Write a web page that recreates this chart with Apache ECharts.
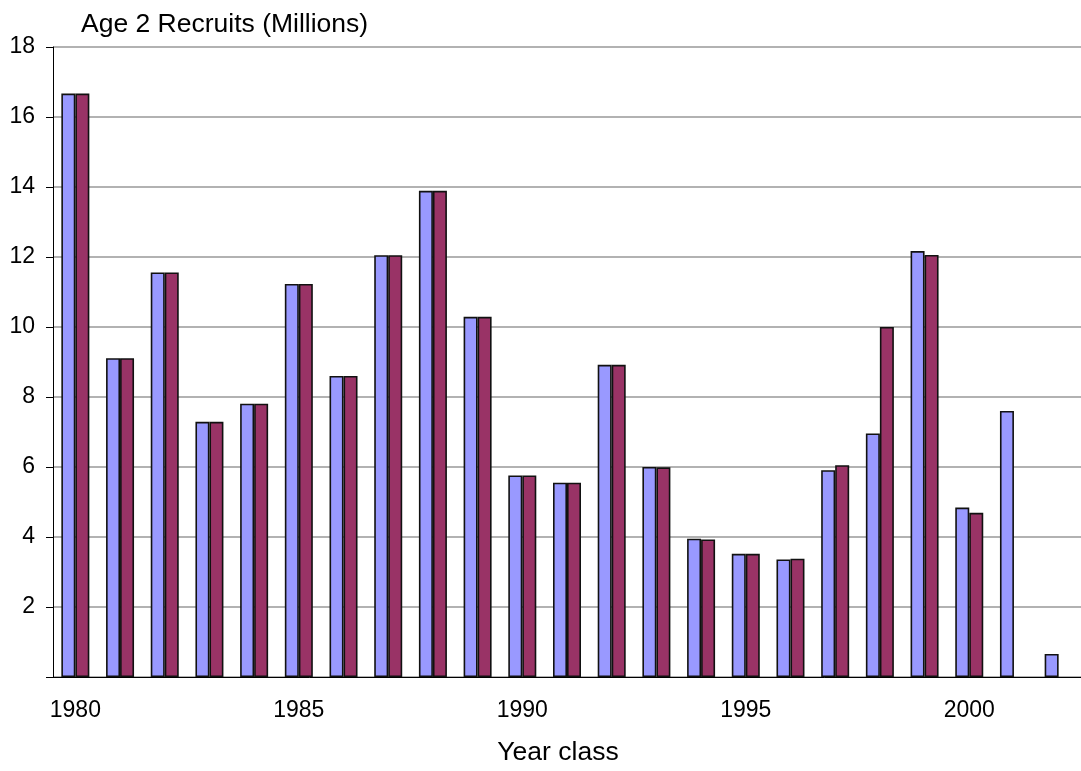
<!DOCTYPE html>
<html>
<head>
<meta charset="utf-8">
<script src="https://cdn.jsdelivr.net/npm/echarts@6/dist/echarts.min.js"></script>
<style>
  html, body { margin: 0; padding: 0; background: #fff; }
  #chart { width: 1081px; height: 771px; }
</style>
</head>
<body>
<div id="chart"></div>
<script>
// Year classes on the x axis
const yearClasses = ['1980','1981','1982','1983','1984','1985','1986','1987','1988','1989',
  '1990','1991','1992','1993','1994','1995','1996','1997','1998','1999','2000','2001','2002'];

// Age 2 recruits (millions), previous run
const previousRun = [16.67, 9.11, 11.56, 7.29, 7.81, 11.23, 8.60, 12.05, 13.89, 10.29,
  5.76, 5.55, 8.92, 6.00, 3.95, 3.52, 3.36, 5.91, 6.96, 12.17, 4.84, 7.60, 0.66];

// Age 2 recruits (millions), current run
const currentRun = [16.67, 9.11, 11.56, 7.29, 7.81, 11.23, 8.60, 12.05, 13.89, 10.29,
  5.76, 5.55, 8.92, 5.99, 3.93, 3.52, 3.38, 6.05, 10.00, 12.06, 4.69, null, null];

// Value axis ticks
const yTicks = { min: 0, max: 18, interval: 2 };

const FONT = 'Liberation Sans, Arial, sans-serif';

const chart = echarts.init(document.getElementById('chart'), null, { renderer: 'canvas' });

chart.setOption({
  backgroundColor: '#ffffff',
  animation: false,
  title: {
    text: 'Age 2 Recruits (Millions)',
    left: 76,
    top: 6,
    textStyle: { fontFamily: FONT, fontSize: 26.5, fontWeight: 'normal', color: '#000' }
  },
  grid: { left: 53, top: 47, bottom: 94, right: -7, containLabel: false },
  xAxis: {
    type: 'category',
    data: yearClasses,
    boundaryGap: true,
    name: 'Year class',
    nameLocation: 'middle',
    nameGap: 62,
    nameTextStyle: { fontFamily: FONT, fontSize: 26.5, color: '#000', padding: [0, 18, 0, 0] },
    axisLine: { show: true, lineStyle: { color: '#000', width: 1 } },
    axisTick: { show: false },
    axisLabel: { interval: 4, margin: 22, fontFamily: FONT, fontSize: 23, color: '#000' },
    splitLine: { show: false }
  },
  yAxis: {
    type: 'value',
    min: yTicks.min,
    max: yTicks.max,
    interval: yTicks.interval,
    axisLine: { show: true, lineStyle: { color: '#000', width: 1 } },
    axisTick: { show: true, length: 7, inside: false, lineStyle: { color: '#000', width: 1 } },
    axisLabel: {
      margin: 18, fontFamily: FONT, fontSize: 23, color: '#000',
      formatter: v => (v === 0 ? '' : String(v))
    },
    splitLine: { show: true, lineStyle: { color: '#999999', width: 1.5 } }
  },
  series: [
    {
      name: 'Previous run',
      type: 'bar',
      data: previousRun,
      barWidth: 14,
      barGap: '0%',
      itemStyle: { color: '#9999FF', borderColor: '#111', borderWidth: 1.6 }
    },
    {
      name: 'Current run',
      type: 'bar',
      data: currentRun,
      barWidth: 14,
      barGap: '0%',
      itemStyle: { color: '#993366', borderColor: '#111', borderWidth: 1.6 }
    }
  ]
});
</script>
</body>
</html>
